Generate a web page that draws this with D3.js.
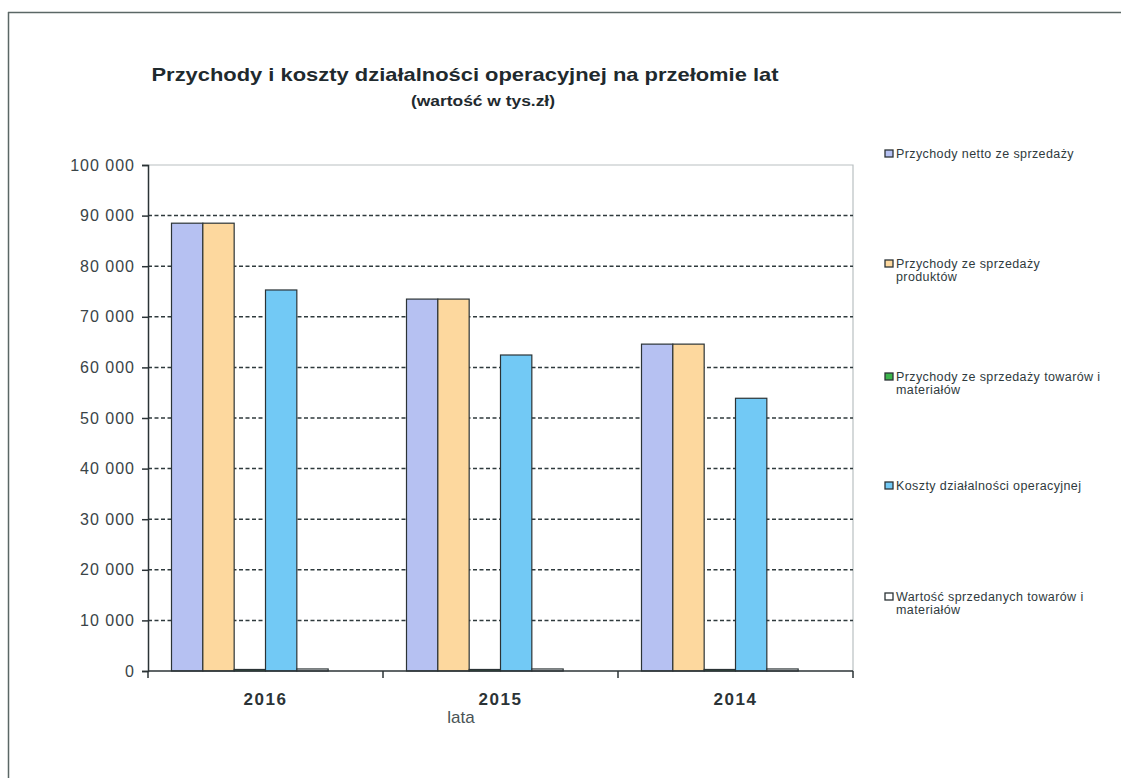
<!DOCTYPE html>
<html>
<head>
<meta charset="utf-8">
<script src="https://cdn.jsdelivr.net/npm/d3@7"></script>
<style>
  html, body { margin: 0; padding: 0; background: #fff; overflow: hidden; }
  svg { display: block; }
  text { font-family: "Liberation Sans", Arial, sans-serif; }
</style>
</head>
<body>
<svg id="chart" width="1121" height="778"></svg>
<script>
// Years on the category axis
const years = ["2016", "2015", "2014"];

// Series names (legend lines) and their values in thousands of PLN
const seriesNames = [
  ["Przychody netto ze sprzedaży"],
  ["Przychody ze sprzedaży", "produktów"],
  ["Przychody ze sprzedaży towarów i", "materiałów"],
  ["Koszty działalności operacyjnej"],
  ["Wartość sprzedanych towarów i", "materiałów"]
];
const przychodyNetto      = [88500, 73500, 64600];
const przychodyProdukty   = [88500, 73500, 64600];
const przychodyTowary     = [300, 300, 300];
const kosztyOperacyjne    = [75300, 62450, 53900];
const wartoscTowarow      = [400, 400, 400];
const seriesColors = ["#b6c1f2", "#fdd89e", "#3cb44b", "#72c9f5", "#ffffff"];

// Y axis ticks
const yTicks = [0, 10000, 20000, 30000, 40000, 50000, 60000, 70000, 80000, 90000, 100000];
const yTickLabels = ["0", "10 000", "20 000", "30 000", "40 000", "50 000", "60 000", "70 000", "80 000", "90 000", "100 000"];

const seriesValues = [przychodyNetto, przychodyProdukty, przychodyTowary, kosztyOperacyjne, wartoscTowarow];

const svg = d3.select("#chart");
const plot = { left: 148, top: 165, right: 853, bottom: 671 };

// Outer frame: only the left and top edges fall inside the page
svg.append("line")
  .attr("x1", 8.5).attr("x2", 8.5).attr("y1", 12).attr("y2", 778)
  .attr("stroke", "#5b6766").attr("stroke-width", 1.5);
svg.append("line")
  .attr("x1", 8).attr("x2", 1121).attr("y1", 12.5).attr("y2", 12.5)
  .attr("stroke", "#5b6766").attr("stroke-width", 1.5);

// Title
svg.append("text")
  .attr("x", 465).attr("y", 81)
  .attr("text-anchor", "middle")
  .attr("font-size", 18.5).attr("font-weight", "bold").attr("fill", "#1f2a2e")
  .attr("textLength", 627).attr("lengthAdjust", "spacingAndGlyphs")
  .text("Przychody i koszty działalności operacyjnej na przełomie lat");
svg.append("text")
  .attr("x", 483).attr("y", 106)
  .attr("text-anchor", "middle")
  .attr("font-size", 14).attr("font-weight", "bold").attr("fill", "#1f2a2e")
  .attr("textLength", 144).attr("lengthAdjust", "spacingAndGlyphs")
  .text("(wartość w tys.zł)");

const y = d3.scaleLinear().domain([0, 100000]).range([plot.bottom, plot.top]);
const x0 = d3.scaleBand().domain(years).range([plot.left, plot.right]).paddingInner(0).paddingOuter(0);
// six slots per year; the last one stays empty
const x1 = d3.scaleBand().domain(d3.range(6)).range([0, x0.bandwidth()]).paddingInner(0).paddingOuter(0.75);

// Plot area border (top and right)
svg.append("path")
  .attr("d", `M${plot.left},${plot.top}H${plot.right}V${plot.bottom}`)
  .attr("fill", "none").attr("stroke", "#b9c0c2").attr("stroke-width", 1.2);

// Dashed gridlines
svg.append("g")
  .selectAll("line")
  .data(yTicks.filter(t => t > 0 && t < 100000))
  .join("line")
  .attr("x1", plot.left).attr("x2", plot.right)
  .attr("y1", d => y(d)).attr("y2", d => y(d))
  .attr("stroke", "#2f3a3d").attr("stroke-width", 1.5)
  .attr("stroke-dasharray", "4,2.5");

// Bars
const groups = svg.append("g")
  .selectAll("g")
  .data(years)
  .join("g")
  .attr("transform", d => `translate(${x0(d)},0)`);

groups.selectAll("rect")
  .data((yr, i) => seriesValues.map((vals, s) => ({ s, v: vals[i] })))
  .join("rect")
  .attr("x", d => x1(d.s))
  .attr("width", x1.bandwidth())
  .attr("y", d => y(d.v))
  .attr("height", d => y(0) - y(d.v))
  .attr("fill", d => seriesColors[d.s])
  .attr("stroke", "#2b3336").attr("stroke-width", 1.2);

// Y axis
const yAxis = d3.axisLeft(y)
  .tickValues(yTicks)
  .tickFormat((d, i) => yTickLabels[i])
  .tickSize(6).tickPadding(7);
const gy = svg.append("g").attr("transform", `translate(${plot.left},0)`).call(yAxis);
gy.select(".domain").attr("stroke", "#2b3336").attr("stroke-width", 1.5);
gy.selectAll(".tick line").attr("stroke", "#2b3336").attr("stroke-width", 1.5);
gy.selectAll(".tick text")
  .attr("font-size", 16).attr("fill", "#3a4447")
  .attr("font-family", "Liberation Sans, Arial, sans-serif")
  .attr("letter-spacing", "1px");

// X axis: tick marks on category boundaries, labels at centers
const gx = svg.append("g").attr("transform", `translate(0,${plot.bottom})`);
gx.append("line")
  .attr("x1", plot.left).attr("x2", plot.right)
  .attr("stroke", "#2b3336").attr("stroke-width", 1.5);
gx.selectAll("line.tick")
  .data(years.map(d => x0(d)).concat([x0(years[years.length - 1]) + x0.bandwidth()]))
  .join("line")
  .attr("class", "tick")
  .attr("x1", d => d).attr("x2", d => d)
  .attr("y1", 0).attr("y2", 7)
  .attr("stroke", "#2b3336").attr("stroke-width", 1.5);
gx.selectAll("text")
  .data(years)
  .join("text")
  .attr("x", d => x0(d) + x0.bandwidth() / 2)
  .attr("y", 34)
  .attr("text-anchor", "middle")
  .attr("font-size", 17).attr("font-weight", "bold").attr("fill", "#2b3336")
  .attr("letter-spacing", "1.5px")
  .text(d => d);

// Axis title
svg.append("text")
  .attr("x", 461).attr("y", 723)
  .attr("text-anchor", "middle")
  .attr("font-size", 17).attr("fill", "#4a5456")
  .text("lata");

// Legend
const legendY = [158, 268, 381, 490, 601];
const legend = svg.append("g")
  .selectAll("g")
  .data(seriesNames)
  .join("g")
  .attr("transform", (d, i) => `translate(885,${legendY[i]})`);
legend.append("rect")
  .attr("x", 0).attr("y", -8).attr("width", 8).attr("height", 7)
  .attr("fill", (d, i) => seriesColors[i])
  .attr("stroke", "#2b3336").attr("stroke-width", 1.3);
legend.append("text")
  .attr("x", 11).attr("y", 0)
  .attr("font-size", 12.5).attr("fill", "#2f3a3d")
  .attr("letter-spacing", "0.4px")
  .selectAll("tspan")
  .data(d => d)
  .join("tspan")
  .attr("x", 11)
  .attr("dy", (d, i) => i === 0 ? 0 : 13)
  .text(d => d);
</script>
</body>
</html>
